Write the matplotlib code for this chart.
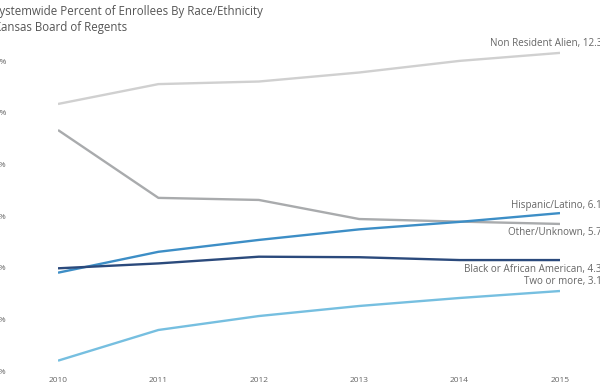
import matplotlib.pyplot as plt

years = [2010, 2011, 2012, 2013, 2014, 2015]

non_resident = [10.35, 11.12, 11.22, 11.57, 12.02, 12.33]
other_unknown = [9.34, 6.71, 6.63, 5.89, 5.79, 5.70]
hispanic = [3.81, 4.62, 5.08, 5.49, 5.78, 6.12]
black = [3.98, 4.17, 4.43, 4.41, 4.30, 4.30]
two_or_more = [0.40, 1.59, 2.13, 2.52, 2.83, 3.10]

y_ticks = [0, 2, 4, 6, 8, 10, 12]

series = [
    ('Non Resident Alien, 12.3%', non_resident, '#d0d0d0', 6.5),
    ('Other/Unknown, 5.7%', other_unknown, '#a9abad', -6.5),
    ('Hispanic/Latino, 6.1%', hispanic, '#3d8ec6', 5.8),
    ('Black or African American, 4.3%', black, '#2b4a7c', -6.5),
    ('Two or more, 3.1%', two_or_more, '#76bfe0', 6.5),
]

plt.rcParams['font.family'] = ['Open Sans', 'DejaVu Sans']
text_color = '#666666'

fig = plt.figure(figsize=(6, 3.9), dpi=100)
ax = fig.add_axes([58 / 600, 1 - 371 / 390, 502 / 600, 13 * 25.8 / 390])
ax.set_xlim(2010, 2015)
ax.set_ylim(0, 13)

for label, vals, color, dy in series:
    ax.plot(years, vals, color=color, lw=1.7, solid_capstyle='butt')
    ax.annotate(label, xy=(years[-1], vals[-1]), xytext=(36, dy),
                textcoords='offset points', ha='right', va='center',
                fontsize=7.1, color=text_color, annotation_clip=False)

ax.set_xticks(years)
ax.set_xticklabels([str(y) for y in years])
ax.set_yticks(y_ticks)
ax.set_yticklabels([f'{t}%' for t in y_ticks])
ax.tick_params(axis='both', length=0, labelsize=6, labelcolor=text_color)
ax.tick_params(axis='y', pad=37)
ax.tick_params(axis='x', pad=4)
for s in ax.spines.values():
    s.set_visible(False)

fig.text(-7 / 600, 1 - 12 / 390, 'Systemwide Percent of Enrollees By Race/Ethnicity',
         fontsize=8.3, color='#555555', va='center', ha='left')
fig.text(-6 / 600, 1 - 27 / 390, 'Kansas Board of Regents',
         fontsize=8.3, color='#555555', va='center', ha='left')

fig.savefig('out.png', dpi=100)
